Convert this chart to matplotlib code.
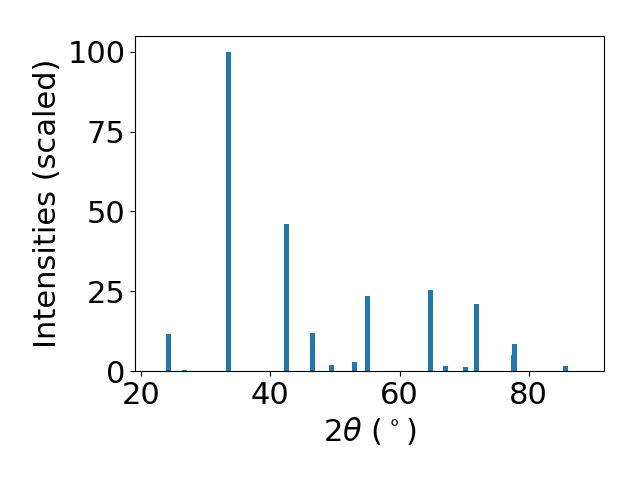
import numpy as np
import matplotlib
matplotlib.use("Agg")
import matplotlib.pyplot as plt

# peak positions (2theta, deg) and scaled intensities
two_theta = [24.26, 26.73, 33.47, 42.52, 46.55, 49.49, 53.05, 55.06,
             64.81, 67.14, 70.23, 71.93, 77.66, 77.82, 85.63]
intensity = [11.6, 0.3, 100.0, 46.0, 12.0, 1.9, 2.8, 23.6,
             25.5, 1.6, 1.2, 21.0, 5.1, 8.5, 1.6]

plt.rcParams['font.size'] = 22

fig, ax = plt.subplots(figsize=(6.4, 4.8), dpi=100)
ax.bar(two_theta, intensity, width=0.78, color='#1f77b4')
ax.set_xlim(19.07, 91.66)
ax.set_ylim(0, 105)
ax.set_xticks([20, 40, 60, 80])
ax.set_yticks([0, 25, 50, 75, 100])
ax.set_xlabel(r'2$\theta$ ($^\circ$)')
ax.set_ylabel('Intensities (scaled)')
fig.subplots_adjust(left=0.211, right=0.944, top=0.925, bottom=0.227)
fig.savefig("out.png")
